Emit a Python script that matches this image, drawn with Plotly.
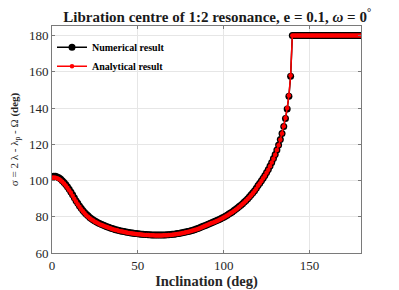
import plotly.graph_objects as go

inclination = list(range(0, 181))

analytical = [
    101.5, 101.7, 101.6, 101.3, 100.8, 100.1, 99.3, 98.3, 97.2, 96.0,
    94.7, 93.2, 91.6, 90.0, 88.4, 86.9, 85.5, 84.2, 83.0, 81.9,
    80.9, 80.0, 79.2, 78.5, 77.9, 77.3, 76.8, 76.3, 75.8, 75.4,
    75.0, 74.6, 74.3, 73.9, 73.6, 73.3, 73.0, 72.7, 72.5, 72.2,
    72.0, 71.8, 71.6, 71.4, 71.2, 71.1, 70.9, 70.8, 70.6, 70.5,
    70.4, 70.3, 70.2, 70.1, 70.0, 69.95, 69.9, 69.85, 69.8, 69.75,
    69.7, 69.7, 69.7, 69.7, 69.7, 69.75, 69.8, 69.85, 69.9, 70.0,
    70.1, 70.2, 70.3, 70.5, 70.6, 70.8, 71.0, 71.2, 71.4, 71.6,
    71.8, 72.1, 72.4, 72.7, 73.0, 73.3, 73.7, 74.1, 74.5, 74.9,
    75.3, 75.7, 76.1, 76.5, 76.9, 77.3, 77.7, 78.1, 78.6, 79.1,
    79.6, 80.1, 80.7, 81.3, 81.9, 82.5, 83.2, 83.9, 84.6, 85.4,
    86.2, 87.0, 87.9, 88.8, 89.8, 90.8, 91.9, 93.0, 94.2, 95.5,
    97.1, 98.4, 99.8, 101.2, 102.7, 104.3, 106.0, 107.9, 109.9, 112.0,
    114.3, 116.8, 119.5, 122.5, 126.0, 130.0, 134.5, 140.0, 147.0, 158.0,
    180, 180, 180, 180, 180, 180, 180, 180, 180, 180,
    180, 180, 180, 180, 180, 180, 180, 180, 180, 180,
    180, 180, 180, 180, 180, 180, 180, 180, 180, 180,
    180, 180, 180, 180, 180, 180, 180, 180, 180, 180,
    180,
]

numerical = [
    102.2, 102.4, 102.3, 102.0, 101.5, 100.8, 99.9, 98.9, 97.8, 96.6,
    95.2, 93.7, 92.1, 90.5, 88.9, 87.4, 86.0, 84.7, 83.5, 82.4,
    81.4, 80.5, 79.6, 78.9, 78.2, 77.6, 77.1, 76.6, 76.1, 75.7,
    75.3, 74.9, 74.5, 74.2, 73.8, 73.5, 73.2, 72.9, 72.7, 72.4,
    72.2, 72.0, 71.8, 71.6, 71.4, 71.3, 71.1, 71.0, 70.8, 70.7,
    70.6, 70.5, 70.4, 70.3, 70.2, 70.15, 70.1, 70.05, 70.0, 69.95,
    69.9, 69.9, 69.9, 69.9, 69.9, 69.95, 70.0, 70.05, 70.1, 70.2,
    70.3, 70.4, 70.5, 70.7, 70.8, 71.0, 71.2, 71.4, 71.6, 71.8,
    72.0, 72.3, 72.6, 72.9, 73.2, 73.5, 73.9, 74.3, 74.7, 75.1,
    75.5, 75.9, 76.3, 76.7, 77.1, 77.5, 77.9, 78.3, 78.8, 79.3,
    79.8, 80.3, 80.9, 81.5, 82.1, 82.7, 83.4, 84.1, 84.8, 85.6,
    86.4, 87.2, 88.1, 89.0, 90.0, 91.0, 92.1, 93.2, 94.4, 95.7,
    97.2, 98.5, 99.9, 101.3, 102.8, 104.4, 106.1, 108.0, 110.0, 112.1,
    114.4, 116.9, 119.6, 122.6, 126.0, 129.8, 134.2, 139.5, 146.5, 157.5,
    180, 180, 180, 180, 180, 180, 180, 180, 180, 180,
    180, 180, 180, 180, 180, 180, 180, 180, 180, 180,
    180, 180, 180, 180, 180, 180, 180, 180, 180, 180,
    180, 180, 180, 180, 180, 180, 180, 180, 180, 180,
    180,
]

x_ticks = [0, 50, 100, 150]
y_ticks = [60, 80, 100, 120, 140, 160, 180]

serif = "Liberation Serif"

fig = go.Figure()
fig.add_trace(go.Scatter(
    x=inclination, y=numerical, mode="lines+markers", name="<b>Numerical result</b>",
    line=dict(color="black", width=1.5),
    marker=dict(color="black", size=7, symbol="circle"),
))
fig.add_trace(go.Scatter(
    x=inclination, y=analytical, mode="lines+markers", name="<b>Analytical result</b>",
    line=dict(color="red", width=1.5),
    marker=dict(color="red", size=4.5, symbol="circle"),
))

axis_common = dict(
    showgrid=True, gridcolor="#e6e6e6", gridwidth=1,
    showline=True, linecolor="#7a7a7a", linewidth=1, mirror="ticks",
    ticks="inside", ticklen=3, tickcolor="#7a7a7a",
    tickfont=dict(family=serif, size=13, color="#262626"),
    zeroline=False, automargin=False,
)

fig.update_layout(
    width=391, height=282,
    margin=dict(l=44, r=38, t=18, b=37),
    paper_bgcolor="white", plot_bgcolor="white",
    title=dict(
        text="<b>Libration centre of 1:2 resonance, e = 0.1, <i>ω</i> = 0<sup>°</sup></b>",
        x=0.535, xanchor="center", y=0.968, yanchor="middle",
        font=dict(family=serif, size=15, color="#1a1a1a"),
    ),
    xaxis=dict(
        range=[0, 180], tickvals=x_ticks,
        title=dict(text="<b>Inclination (deg)</b>", standoff=2,
                   font=dict(family=serif, size=14.5, color="#262626")),
        **axis_common,
    ),
    yaxis=dict(
        range=[60, 185.3], tickvals=y_ticks,
        title=dict(text="σ = 2 λ - λ<sub>p</sub> - Ω <b>(deg)</b>", standoff=10,
                   font=dict(family=serif, size=11, color="#262626")),
        **axis_common,
    ),
    legend=dict(
        x=0.0, y=0.97, xanchor="left", yanchor="top",
        bgcolor="rgba(0,0,0,0)", borderwidth=0,
        font=dict(family=serif, size=10, color="black"),
        itemwidth=30, tracegroupgap=0,
    ),
    showlegend=True,
)

fig.write_html("out.html")
